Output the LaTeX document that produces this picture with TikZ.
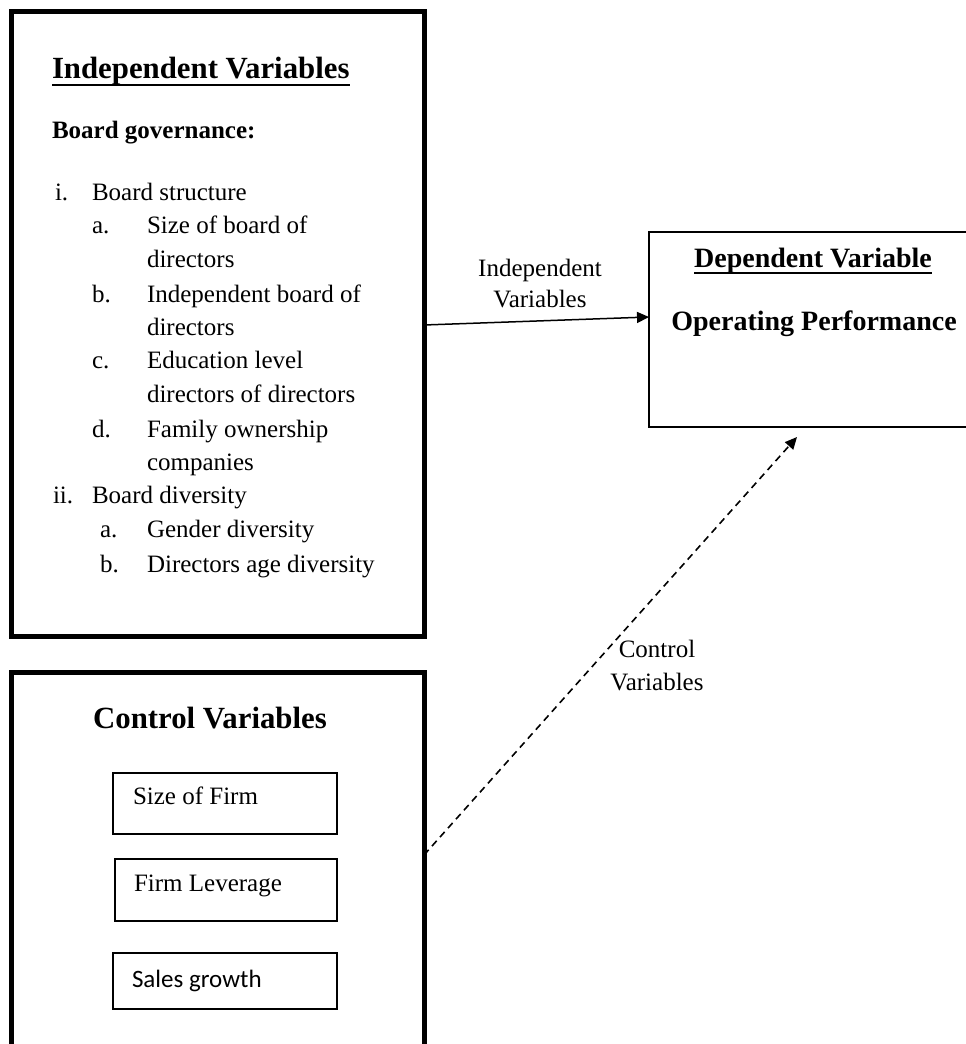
\documentclass[tikz,border=0pt]{standalone}
\usepackage{fontspec}
\setmainfont{Liberation Serif}
\newfontfamily\calibrifont{Carlito}
\usetikzlibrary{arrows.meta}
\tikzset{
  bigbox/.style={draw, line width=5pt, inner sep=0pt, outer sep=0pt},
  thinbox/.style={draw, line width=1.3pt, inner sep=0pt, outer sep=0pt},
  txt/.style={inner sep=0pt, outer sep=0pt, anchor=base west, font=\fontsize{25}{31}\selectfont},
  titletxt/.style={inner sep=0pt, outer sep=0pt, font=\fontsize{30.8}{36}\selectfont\bfseries},
  deptxt/.style={inner sep=0pt, outer sep=0pt, anchor=base, font=\fontsize{28}{34}\selectfont\bfseries},
  edgelabel/.style={inner sep=0pt, outer sep=0pt, align=center},
  solidarrow/.style={line width=1.5pt, -{Triangle[length=12pt,width=11pt]}},
  dasharrow/.style={line width=1.6pt, dash pattern=on 7pt off 5pt, -{Triangle[length=12pt,width=11pt]}},
  uline/.style={line width=2.5pt}
}
\begin{document}
\begin{tikzpicture}[x=1pt,y=-1pt]
\useasboundingbox (0,0) rectangle (966,1044);
\clip (0,0) rectangle (966,1044);
\fill[white] (0,0) rectangle (966,1044);

% Independent variables box
\node[bigbox, minimum width=413pt, minimum height=625pt] (ivbox) at (217.5,323.5) {};
\node[titletxt, anchor=base west] (ivtitle) at (52,78) {Independent Variables};
\draw[uline] ([yshift=-7pt]ivtitle.base west) -- ([yshift=-7pt]ivtitle.base east);
\node[txt, font=\fontsize{25}{31}\selectfont\bfseries] (bg) at (52,138) {Board governance:};

\node[txt] (ri) at (55,200) {i.};
\node[txt] (bs) at (92,200) {Board structure};
\node[txt] (la) at (92,233) {a.};
\node[txt] (ia1) at (147,233) {Size of board of};
\node[txt] (ia2) at (147,267) {directors};
\node[txt] (lb) at (92,302) {b.};
\node[txt] (ib1) at (147,302) {Independent board of};
\node[txt] (ib2) at (147,335) {directors};
\node[txt] (lc) at (92,368) {c.};
\node[txt] (ic1) at (147,368) {Education level};
\node[txt] (ic2) at (147,402) {directors of directors};
\node[txt] (ld) at (92,437) {d.};
\node[txt] (id1) at (147,437) {Family ownership};
\node[txt] (id2) at (147,470) {companies};
\node[txt] (rii) at (53,503) {ii.};
\node[txt] (bd) at (92,503) {Board diversity};
\node[txt] (la2) at (100,537) {a.};
\node[txt] (ja) at (147,537) {Gender diversity};
\node[txt] (lb2) at (100,572) {b.};
\node[txt] (jb) at (147,572) {Directors age diversity};

% Control variables box
\node[bigbox, minimum width=413pt, minimum height=420pt] (cvbox) at (217.5,882) {};
\node[titletxt, anchor=base] (cvtitle) at (210,728) {Control Variables};
\node[thinbox, minimum width=224pt, minimum height=61pt] (sizebox) at (225,803.5) {};
\node[txt] (sizetxt) at (133,804) {Size of Firm};
\node[thinbox, minimum width=222pt, minimum height=62pt] (levbox) at (226,890) {};
\node[txt] (levtxt) at (134,891) {Firm Leverage};
\node[thinbox, minimum width=224pt, minimum height=56pt] (salesbox) at (225,981) {};
\node[txt, font=\fontsize{25}{31}\selectfont\calibrifont] (salestxt) at (132,987) {Sales growth};

% Dependent variable box
\node[thinbox, minimum width=351pt, minimum height=195pt] (dvbox) at (824.5,329.5) {};
\node[deptxt] (dvtitle) at (813,267) {Dependent Variable};
\draw[line width=2pt] ([yshift=-6pt]dvtitle.base west) -- ([yshift=-6pt]dvtitle.base east);
\node[deptxt] (optxt) at (814,330) {Operating Performance};

% Connectors
\draw[solidarrow] ([yshift=-1.5pt]ivbox.east) -- ([yshift=12.5pt]dvbox.west);
\node[edgelabel, font=\fontsize{25}{31}\selectfont] (ivlabel) at (540,284) {Independent\\Variables};

\coordinate (cvend) at (797,437);
\draw[dasharrow] ([yshift=27pt]cvbox.east) -- (cvend);
\node[edgelabel, font=\fontsize{25}{33}\selectfont] (cvlabel) at (657,666) {Control\\Variables};
\end{tikzpicture}
\end{document}
